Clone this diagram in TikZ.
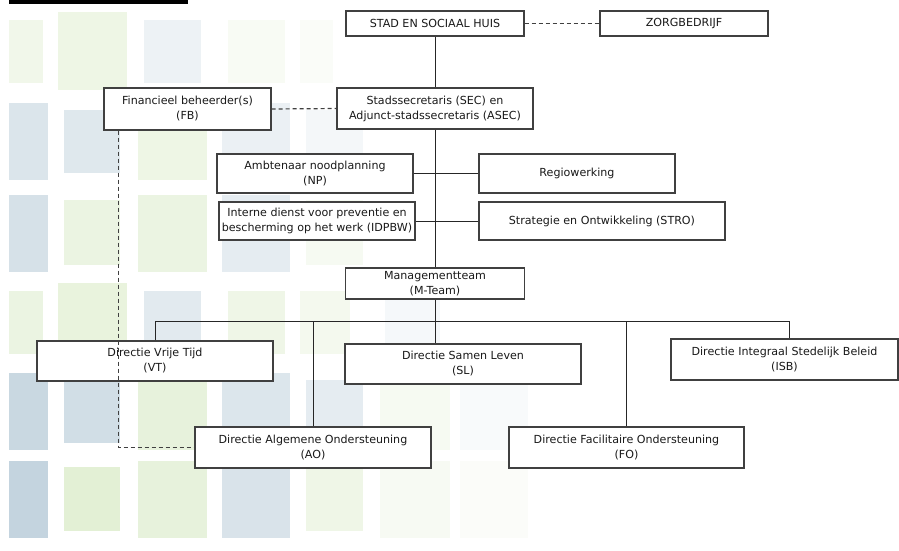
\documentclass[tikz,border=0pt]{standalone}
\usepackage{fontspec}
\setmainfont{DejaVu Sans}
\begin{document}
\begin{tikzpicture}[x=1pt,y=-1pt,
  box/.style={draw=black!75, line width=1.2pt, fill=white, inner sep=0pt, align=center,
    font=\fontsize{11.1}{15}\selectfont, text=black!90},
  conn/.style={draw=black!85, line width=0.9pt},
  dashline/.style={draw=black!75, line width=1.2pt, dash pattern=on 4pt off 3pt},
  bl/.style={fill={rgb,255:red,165;green,190;blue,206}},
  gr/.style={fill={rgb,255:red,200;green,226;blue,172}}]
\useasboundingbox (0,0) rectangle (899,550);
\fill[white] (0,0) rectangle (899,550);
% background squares
% row 1
\fill[gr,opacity=0.25] (9,20) rectangle (43,83);
\fill[gr,opacity=0.3] (58,12) rectangle (127,90);
\fill[bl,opacity=0.2] (144,20) rectangle (201,83);
\fill[gr,opacity=0.12] (228,20) rectangle (285,83);
\fill[gr,opacity=0.08] (300,20) rectangle (333,83);
% row 2
\fill[bl,opacity=0.4] (9,103) rectangle (48,180);
\fill[bl,opacity=0.35] (64,110) rectangle (120,173);
\fill[gr,opacity=0.3] (138,103) rectangle (207,180);
\fill[bl,opacity=0.22] (222,103) rectangle (290,180);
\fill[bl,opacity=0.12] (306,110) rectangle (363,173);
% row 3
\fill[bl,opacity=0.45] (9,195) rectangle (48,272);
\fill[gr,opacity=0.35] (64,200) rectangle (120,265);
\fill[gr,opacity=0.35] (138,195) rectangle (207,272);
\fill[bl,opacity=0.28] (222,195) rectangle (290,272);
\fill[gr,opacity=0.15] (306,200) rectangle (363,265);
% row 4
\fill[gr,opacity=0.35] (9,291) rectangle (43,354);
\fill[gr,opacity=0.4] (58,283) rectangle (127,360);
\fill[bl,opacity=0.32] (144,291) rectangle (201,354);
\fill[gr,opacity=0.28] (228,291) rectangle (285,354);
\fill[gr,opacity=0.2] (300,291) rectangle (350,354);
\fill[bl,opacity=0.1] (385,291) rectangle (440,354);
% row 5
\fill[bl,opacity=0.6] (9,373) rectangle (48,450);
\fill[bl,opacity=0.5] (64,380) rectangle (120,443);
\fill[gr,opacity=0.42] (138,373) rectangle (207,450);
\fill[bl,opacity=0.38] (222,373) rectangle (290,450);
\fill[bl,opacity=0.28] (306,380) rectangle (363,443);
\fill[gr,opacity=0.15] (380,373) rectangle (450,450);
\fill[bl,opacity=0.07] (460,373) rectangle (528,450);
% row 6
\fill[bl,opacity=0.65] (9,461) rectangle (48,538);
\fill[gr,opacity=0.5] (64,467) rectangle (120,531);
\fill[gr,opacity=0.42] (138,461) rectangle (207,538);
\fill[bl,opacity=0.42] (222,461) rectangle (290,538);
\fill[gr,opacity=0.28] (306,467) rectangle (363,531);
\fill[gr,opacity=0.14] (380,461) rectangle (450,538);
\fill[gr,opacity=0.07] (460,461) rectangle (528,538);
% title underline (text cut off at top)
\fill[black] (9,0) rectangle (188,3.5);

% nodes
\node[box, minimum width=178pt, minimum height=25pt] (ssh) at (435,23.5) {STAD EN SOCIAAL HUIS};
\node[box, minimum width=168pt, minimum height=25pt] (zorg) at (684,23.5) {ZORGBEDRIJF};
\node[box, minimum width=196pt, minimum height=41pt] (sec) at (435,108.5) {Stadssecretaris (SEC) en\\Adjunct-stadssecretaris (ASEC)};
\node[box, minimum width=167pt, minimum height=42pt] (fb) at (187.5,109) {Financieel beheerder(s)\\(FB)};
\node[box, minimum width=196pt, minimum height=39pt] (np) at (315,173.5) {Ambtenaar noodplanning\\(NP)};
\node[box, minimum width=196pt, minimum height=38pt] (idp) at (317,221) {Interne dienst voor preventie en\\bescherming op het werk (IDPBW)};
\node[box, minimum width=196pt, minimum height=39pt] (regio) at (577,173.5) {Regiowerking};
\node[box, minimum width=246pt, minimum height=38pt] (stro) at (602,221) {Strategie en Ontwikkeling (STRO)};
\node[box, minimum width=179pt, minimum height=31pt] (mt) at (435,283.5) {Managementteam\\(M-Team)};
\node[box, minimum width=236pt, minimum height=40pt] (vt) at (155,361) {Directie Vrije Tijd\\(VT)};
\node[box, minimum width=236pt, minimum height=40pt] (sl) at (463,364) {Directie Samen Leven\\(SL)};
\node[box, minimum width=227pt, minimum height=41pt] (isb) at (784.5,359.5) {Directie Integraal Stedelijk Beleid\\(ISB)};
\node[box, minimum width=236pt, minimum height=41pt] (ao) at (313,447.5) {Directie Algemene Ondersteuning\\(AO)};
\node[box, minimum width=235pt, minimum height=41pt] (fo) at (626.5,447.5) {Directie Facilitaire Ondersteuning\\(FO)};

% connectors
\coordinate (busL) at (155,321);
\coordinate (busR) at (789,321);
\coordinate (fbd) at ([xshift=15pt]fb.south west);
\draw[dashline] (ssh.east) -- (zorg.west);
\draw[dashline] (fb.east) -- (sec.west);
\draw[conn] (ssh.south) -- (sec.north);
\draw[conn] (sec.south) -- (mt.north);
\draw[conn] (np.east) -- (regio.west);
\draw[conn] (idp.east) -- (stro.west);
\draw[conn] (mt.south) -- (mt.south |- sl.north);
\draw[conn] (vt.north) -- (busL) -- (busR) -- (busR |- isb.north);
\draw[conn] (ao.north) -- (ao.north |- busL);
\draw[conn] (fo.north) -- (fo.north |- busL);
\draw[dashline] (fbd) -- (fbd |- ao.west) -- (ao.west);
\end{tikzpicture}
\end{document}
